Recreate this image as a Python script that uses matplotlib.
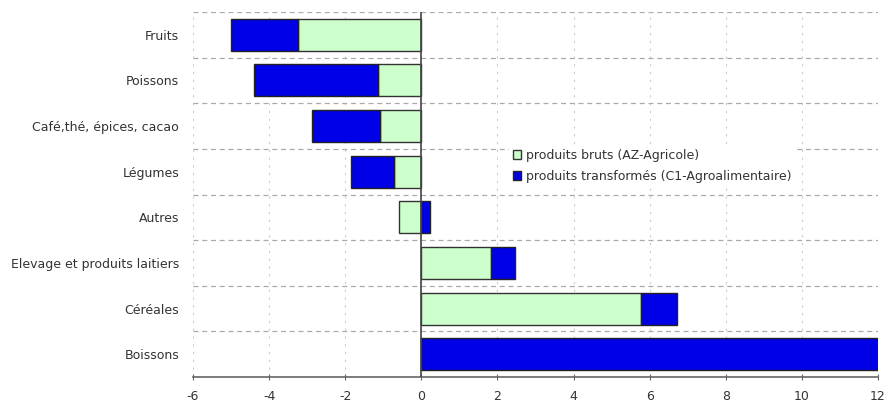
import matplotlib
matplotlib.use("Agg")
import matplotlib.pyplot as plt
from matplotlib.patches import Patch
import numpy as np

categories = ["Fruits", "Poissons", "Café,thé, épices, cacao", "Légumes", "Autres",
              "Elevage et produits laitiers", "Céréales", "Boissons"]
bruts = [-3.24, -1.15, -1.08, -0.71, -0.60, 1.82, 5.76, 0.0]
transformes = [-1.76, -3.24, -1.78, -1.13, 0.24, 0.63, 0.95, 12.0]
xticks = [-6, -4, -2, 0, 2, 4, 6, 8, 10, 12]
legend_labels = ["produits bruts (AZ-Agricole)", "produits transformés (C1-Agroalimentaire)"]

green = "#ccffcc"
blue = "#0000e6"
txt = "#333333"

plt.rcParams['font.family'] = ['DejaVu Sans']
fig = plt.figure(figsize=(8.84, 4.09), dpi=100)
ax = fig.add_axes([193/884, 1-377/409, (878-193)/884, (377-12)/409])

n = len(categories)
y = np.arange(n)
b = np.array(bruts)
t = np.array(transformes)
left_t = np.where(np.sign(b) == np.sign(t), b, 0.0)

ax.barh(y, b, height=0.7, color=green, edgecolor="#333333", linewidth=1.0, zorder=3)
ax.barh(y, t, left=left_t, height=0.7, color=blue, edgecolor="#222222", linewidth=1.0, zorder=3)

ax.set_ylim(n - 0.5, -0.5)
ax.set_xlim(-6, 12)
ax.set_xticks(xticks)
ax.set_xticklabels([str(v) for v in xticks], color=txt, fontsize=9)
ax.set_yticks(y)
ax.set_yticklabels(categories, color=txt, fontsize=9)
ax.tick_params(axis='y', length=0, pad=10)
ax.tick_params(axis='x', length=4, color="#666666", pad=7, direction='inout')

# grid
for xv in xticks:
    ax.axvline(xv, color="#cccccc", linestyle=(0, (2, 5)), linewidth=0.8, zorder=1)
for yb in np.arange(-0.5, n - 0.4, 1.0):
    if yb < n - 0.5:
        ax.axhline(yb, color="#aaaaaa", linestyle=(0, (4, 3)), linewidth=0.9, zorder=1)
ax.axvline(0, color="#444444", linewidth=1.2, zorder=4)

for s in ["top", "right", "left"]:
    ax.spines[s].set_visible(False)
ax.spines["bottom"].set_color("#666666")
ax.spines["bottom"].set_linewidth(1.2)

handles = [Patch(facecolor=green, edgecolor="#333333", linewidth=1.0),
           Patch(facecolor=blue, edgecolor="#222222", linewidth=1.0)]
leg = ax.legend(handles, legend_labels, loc="upper left", bbox_to_anchor=(0.452, 0.652),
                frameon=True, facecolor="white", edgecolor="none", framealpha=1,
                fontsize=9, handlelength=0.7, handleheight=0.7, handletextpad=0.4,
                labelspacing=0.65, borderpad=0.3)
for tx in leg.get_texts():
    tx.set_color(txt)
leg.set_zorder(5)

fig.savefig("out.png", dpi=100)
